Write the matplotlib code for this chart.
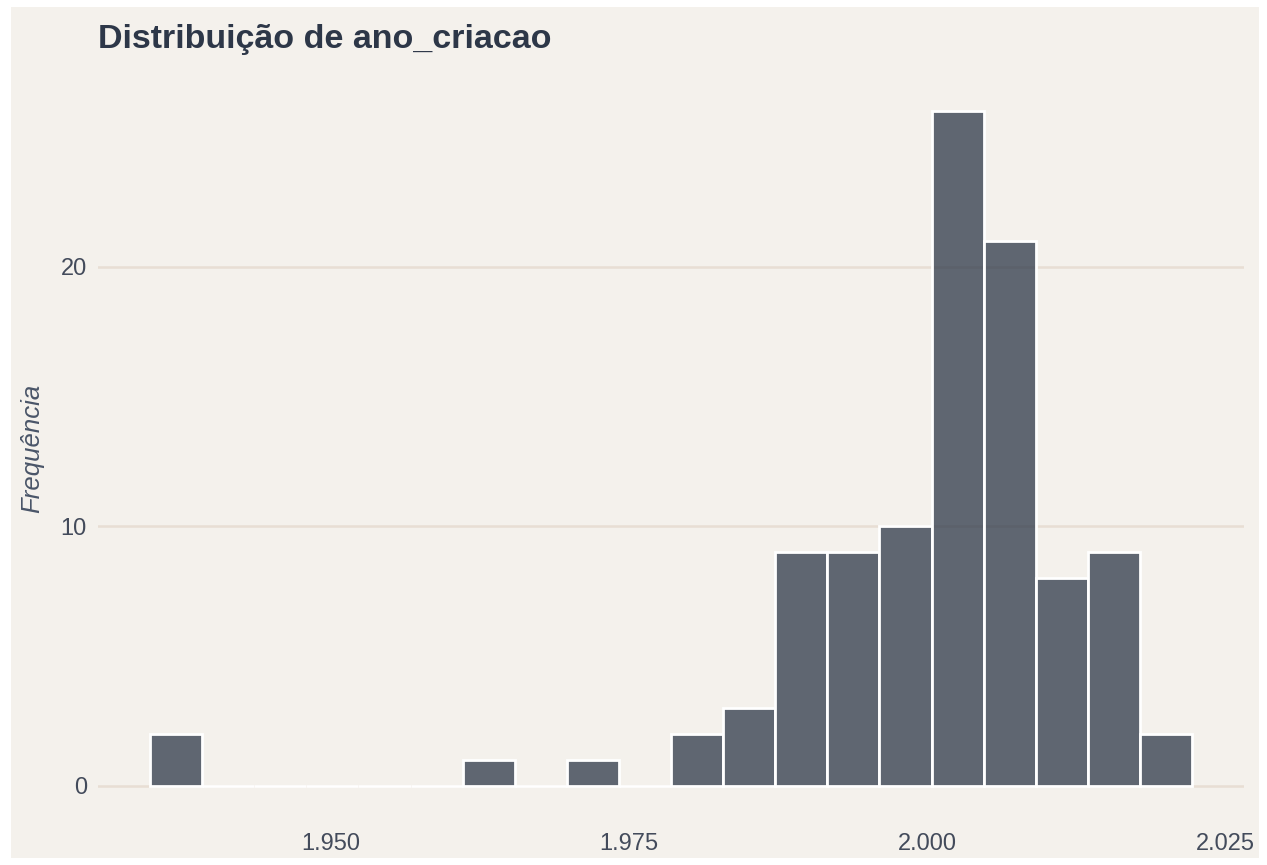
import numpy as np
import matplotlib
matplotlib.use("Agg")
import matplotlib.pyplot as plt
from matplotlib.colors import to_rgba
from matplotlib.patches import Rectangle

# histogram of ano_criacao: 20 bins between the min and max year
ano_min = 1937
ano_max = 2020
contagens = [2, 0, 0, 0, 0, 0, 1, 0, 1, 0, 2, 3, 9, 9, 10, 26, 21, 8, 9, 2]
x_ticks = [1950, 1975, 2000, 2025]
x_labels = ["1.950", "1.975", "2.000", "2.025"]
y_ticks = [0, 10, 20]

n_bins = len(contagens)
largura = (ano_max - ano_min) / (n_bins - 1)
inicios = ano_min - largura / 2 + largura * np.arange(n_bins)

plt.rcParams['font.family'] = ['Liberation Sans', 'DejaVu Sans']

fig = plt.figure(figsize=(12.67, 8.65), dpi=100, facecolor='white')
# beige plot background with a thin white border
fig.patches.append(Rectangle((11 / 1267, 7 / 865), (1259 - 11) / 1267, (858 - 7) / 865,
                             transform=fig.transFigure, facecolor='#F4F1EC',
                             edgecolor='none', zorder=-10))

ax = fig.add_axes([0.07727, 0.05272, 0.98193 - 0.07727, 0.91064 - 0.05272])
ax.set_facecolor('none')

# semi-transparent fill, opaque white outline
ax.bar(inicios, contagens, width=largura, align='edge', color=to_rgba('#2D3748', 0.75),
       edgecolor='white', linewidth=2.0, zorder=3)

x_lo = inicios[0] - largura
x_hi = inicios[-1] + 2 * largura
ax.set_xlim(x_lo, x_hi)
ymax = max(contagens)
ax.set_ylim(-0.05 * ymax, 1.05 * ymax)

ax.set_xticks(x_ticks)
ax.set_xticklabels(x_labels)
ax.set_yticks(y_ticks)
ax.tick_params(length=0, labelsize=17, labelcolor='#434B5B', pad=8)
ax.tick_params(axis='x', pad=10)

ax.grid(axis='y', color='#E8DED4', linewidth=1.8, zorder=1)
ax.grid(axis='x', visible=False)
for s in ax.spines.values():
    s.set_visible(False)

ax.set_ylabel('Frequência', fontsize=18.5, style='italic', color='#4A5568', labelpad=12)
ax.set_title('Distribuição de ano_criacao', loc='left', fontsize=24.5, fontweight='bold',
             color='#2D3748', pad=21)

fig.savefig('out.png', dpi=100, facecolor='white')
